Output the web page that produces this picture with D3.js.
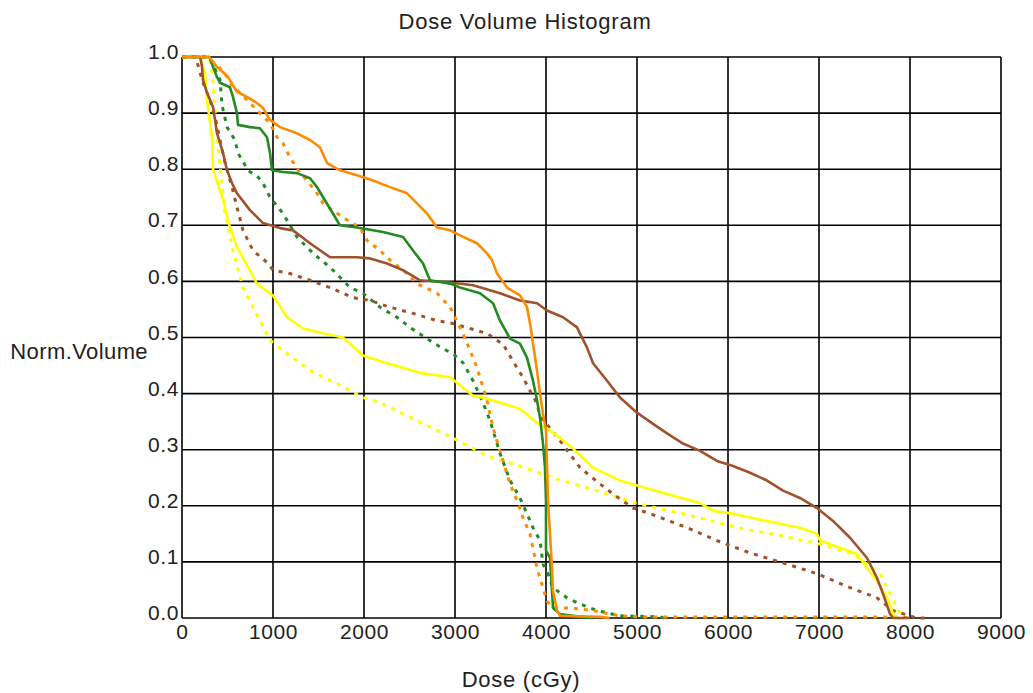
<!DOCTYPE html>
<html>
<head>
<meta charset="utf-8">
<script src="https://cdn.jsdelivr.net/npm/d3@7"></script>
<style>
  body { margin: 0; background: #fff; }
  text { font-family: "Liberation Sans", Arial, sans-serif; fill: #222; }
</style>
</head>
<body>
<script>
	var width = 1033;
	var height = 693;

	// tick values
	var doseTicks = [0, 1000, 2000, 3000, 4000, 5000, 6000, 7000, 8000, 9000];
	var volTicks = [0, 0.1, 0.2, 0.3, 0.4, 0.5, 0.6, 0.7, 0.8, 0.9, 1.0];

	// curves: [dose cGy, norm. volume]
	var orangeSolid = [[0,1],[300,1],[385,0.982],[451,0.973],[506,0.964],[604,0.938],[714,0.929],[824,0.918],[890,0.909],[967,0.888],[1077,0.875],[1264,0.864],[1407,0.852],[1516,0.839],[1594,0.811],[1736,0.798],[1923,0.789],[2099,0.78],[2286,0.768],[2473,0.757],[2583,0.739],[2693,0.721],[2802,0.696],[2946,0.691],[3055,0.682],[3242,0.668],[3352,0.65],[3407,0.638],[3462,0.614],[3572,0.589],[3714,0.575],[3791,0.554],[3830,0.52],[3857,0.489],[3901,0.441],[3934,0.4],[3967,0.364],[4000,0.334],[4011,0.27],[4022,0.209],[4044,0.15],[4066,0.089],[4077,0.048],[4121,0.013],[4154,0.004],[4600,0.002],[4700,0]];
	var orangeDotted = [[0,1],[250,1],[341,0.991],[418,0.98],[473,0.971],[527,0.954],[747,0.918],[857,0.9],[967,0.882],[1044,0.857],[1110,0.846],[1187,0.821],[1297,0.793],[1374,0.78],[1484,0.757],[1550,0.739],[1769,0.714],[1956,0.696],[2033,0.673],[2176,0.655],[2286,0.638],[2429,0.62],[2583,0.596],[2802,0.579],[2946,0.554],[3088,0.507],[3165,0.477],[3242,0.446],[3352,0.388],[3418,0.339],[3495,0.298],[3605,0.239],[3681,0.209],[3747,0.179],[3824,0.15],[3901,0.089],[3967,0.054],[4011,0.03],[4077,0.018],[4264,0.018],[4517,0.013],[4813,0.004],[5033,0.002],[7900,0.002],[8000,0]];
	var greenSolid = [[0,1],[300,1],[385,0.964],[418,0.954],[527,0.946],[560,0.929],[604,0.9],[615,0.879],[747,0.875],[857,0.873],[934,0.857],[967,0.829],[989,0.798],[1110,0.795],[1264,0.793],[1407,0.784],[1484,0.768],[1550,0.75],[1659,0.721],[1736,0.7],[1923,0.696],[2209,0.688],[2429,0.679],[2539,0.655],[2649,0.632],[2725,0.602],[2946,0.596],[3055,0.589],[3275,0.579],[3418,0.561],[3495,0.53],[3605,0.498],[3714,0.489],[3791,0.464],[3857,0.423],[3901,0.388],[3934,0.357],[3967,0.311],[3989,0.268],[4000,0.209],[4000,0.12],[4044,0.107],[4066,0.048],[4077,0.018],[4154,0.007],[4374,0.002],[4500,0]];
	var greenDotted = [[0,1],[300,1],[418,0.959],[440,0.914],[495,0.875],[582,0.852],[615,0.829],[725,0.798],[835,0.786],[890,0.775],[967,0.75],[1110,0.721],[1264,0.679],[1440,0.65],[1627,0.625],[1769,0.602],[1846,0.589],[1989,0.579],[2176,0.554],[2363,0.536],[2506,0.518],[2671,0.5],[2868,0.48],[2978,0.471],[3088,0.455],[3198,0.423],[3297,0.388],[3385,0.352],[3495,0.293],[3605,0.245],[3714,0.214],[3791,0.186],[3857,0.161],[3934,0.138],[3967,0.096],[4011,0.084],[4077,0.054],[4231,0.036],[4374,0.025],[4517,0.016],[4671,0.009],[4813,0.004],[5253,0.002],[5300,0]];
	var brownSolid = [[0,1],[200,1],[220,0.982],[231,0.959],[275,0.936],[341,0.911],[385,0.864],[451,0.829],[495,0.798],[550,0.775],[604,0.757],[747,0.727],[890,0.704],[1077,0.695],[1220,0.691],[1407,0.668],[1627,0.643],[1923,0.643],[2066,0.641],[2253,0.632],[2429,0.62],[2616,0.602],[2946,0.598],[3198,0.593],[3495,0.579],[3714,0.566],[3901,0.561],[4011,0.548],[4187,0.536],[4341,0.518],[4374,0.507],[4451,0.482],[4517,0.454],[4671,0.423],[4813,0.393],[5000,0.366],[5176,0.346],[5330,0.329],[5506,0.311],[5693,0.298],[5879,0.28],[6055,0.271],[6242,0.259],[6429,0.245],[6605,0.227],[6791,0.214],[6978,0.196],[7154,0.173],[7341,0.143],[7528,0.107],[7638,0.071],[7704,0.043],[7781,0.007],[7814,0],[8000,0]];
	var brownDotted = [[0,1],[150,1],[231,0.954],[308,0.923],[363,0.893],[418,0.852],[473,0.811],[550,0.768],[604,0.732],[670,0.691],[780,0.655],[934,0.634],[1000,0.62],[1187,0.614],[1407,0.602],[1627,0.589],[1879,0.571],[2066,0.566],[2286,0.554],[2539,0.543],[2802,0.53],[2978,0.525],[3352,0.507],[3528,0.488],[3681,0.446],[3747,0.429],[3824,0.405],[3901,0.382],[3934,0.36],[4011,0.345],[4154,0.316],[4374,0.268],[4594,0.239],[4737,0.221],[4956,0.196],[5143,0.186],[5550,0.161],[5879,0.138],[6242,0.116],[6649,0.096],[6978,0.079],[7341,0.054],[7638,0.036],[7814,0.013],[8077,0],[8200,0]];
	var yellowSolid = [[0,1],[200,1],[253,0.97],[275,0.923],[330,0.857],[341,0.8],[451,0.745],[527,0.696],[604,0.661],[824,0.596],[1000,0.575],[1154,0.536],[1330,0.516],[1516,0.509],[1769,0.5],[1989,0.468],[2253,0.454],[2616,0.437],[2946,0.429],[3198,0.396],[3352,0.391],[3714,0.373],[3901,0.348],[4011,0.338],[4154,0.321],[4297,0.302],[4517,0.268],[4813,0.245],[5000,0.236],[5330,0.221],[5693,0.205],[5835,0.191],[6055,0.186],[6429,0.173],[6791,0.161],[6978,0.15],[7011,0.138],[7418,0.114],[7528,0.089],[7638,0.066],[7748,0.036],[7814,0.007],[7858,0]];
	var yellowDotted = [[0,1],[300,1],[330,0.973],[390,0.85],[473,0.721],[560,0.655],[670,0.589],[780,0.554],[967,0.495],[1110,0.477],[1407,0.441],[1703,0.418],[1989,0.393],[2176,0.384],[2429,0.364],[2758,0.338],[2978,0.321],[3352,0.289],[3714,0.271],[4077,0.25],[4451,0.232],[4813,0.214],[5000,0.204],[5506,0.186],[6165,0.159],[6605,0.146],[7011,0.132],[7374,0.114],[7528,0.096],[7671,0.079],[7781,0.043],[7891,0.007],[7950,0]];

	var orange = "#ff8c00", green = "#228b22", brown = "#a0522d", yellow = "#ffff00";

	// dotted ones first so the solid ones sit on top
	var curves = [
		{ data: yellowDotted, color: yellow, dotted: true },
		{ data: brownDotted, color: brown, dotted: true },
		{ data: greenDotted, color: green, dotted: true },
		{ data: orangeDotted, color: orange, dotted: true },
		{ data: yellowSolid, color: yellow, dotted: false },
		{ data: brownSolid, color: brown, dotted: false },
		{ data: greenSolid, color: green, dotted: false },
		{ data: orangeSolid, color: orange, dotted: false }
	];

	//create SVG
	var svg = d3.select("body")
		.append("svg")
		.attr("width", width)
		.attr("height", height);

	var x = d3.scaleLinear().domain([0, 9000]).range([182, 1001]);
	var y = d3.scaleLinear().domain([0, 1]).range([618, 57]);

	// grid
	var grid = svg.append("g");
	grid.selectAll(".vgrid")
		.data(doseTicks)
		.enter()
		.append("line")
		.attr("x1", function(d) { return x(d); })
		.attr("x2", function(d) { return x(d); })
		.attr("y1", y(0))
		.attr("y2", y(1))
		.attr("stroke", "#000")
		.attr("stroke-width", 1.6);
	grid.selectAll(".hgrid")
		.data(volTicks)
		.enter()
		.append("line")
		.attr("x1", x(0))
		.attr("x2", x(9000))
		.attr("y1", function(d) { return y(d); })
		.attr("y2", function(d) { return y(d); })
		.attr("stroke", "#000")
		.attr("stroke-width", 1.6);

	// tick labels through the axes, domain line hidden
	var xAxis = svg.append("g")
		.attr("transform", "translate(0," + y(0) + ")")
		.call(d3.axisBottom(x).tickValues(doseTicks).tickSize(0).tickPadding(6).tickFormat(d3.format("d")));
	var yAxis = svg.append("g")
		.attr("transform", "translate(" + x(0) + ",0)")
		.call(d3.axisLeft(y).tickValues(volTicks).tickSize(0).tickPadding(3).tickFormat(d3.format(".1f")));
	svg.selectAll(".domain").remove();
	svg.selectAll(".tick text")
		.attr("font-family", "Liberation Sans, Arial, sans-serif")
		.attr("font-size", 21)
		.attr("letter-spacing", 0.6)
		.attr("fill", "#222");
	yAxis.selectAll(".tick text").attr("dy", "0.08em");

	// curves
	var line = d3.line()
		.x(function(d) { return x(d[0]); })
		.y(function(d) { return y(d[1]); });

	svg.append("g")
		.selectAll("path")
		.data(curves)
		.enter()
		.append("path")
		.attr("d", function(d) { return line(d.data); })
		.attr("fill", "none")
		.attr("stroke", function(d) { return d.color; })
		.attr("stroke-width", function(d) { return d.dotted ? 3 : 2.6; })
		.attr("stroke-dasharray", function(d) { return d.dotted ? "4,6" : null; })
		.attr("stroke-linejoin", "round");

	// titles
	svg.append("text")
		.attr("x", 525)
		.attr("y", 29)
		.attr("text-anchor", "middle")
		.attr("font-size", 22)
		.attr("letter-spacing", 0.75)
		.text("Dose Volume Histogram");

	svg.append("text")
		.attr("x", 521)
		.attr("y", 687)
		.attr("text-anchor", "middle")
		.attr("font-size", 22)
		.attr("letter-spacing", 0.75)
		.text("Dose (cGy)");

	svg.append("text")
		.attr("x", 148)
		.attr("y", 359)
		.attr("text-anchor", "end")
		.attr("font-size", 22)
		.attr("letter-spacing", 0.4)
		.text("Norm.Volume");
</script>
</body>
</html>
